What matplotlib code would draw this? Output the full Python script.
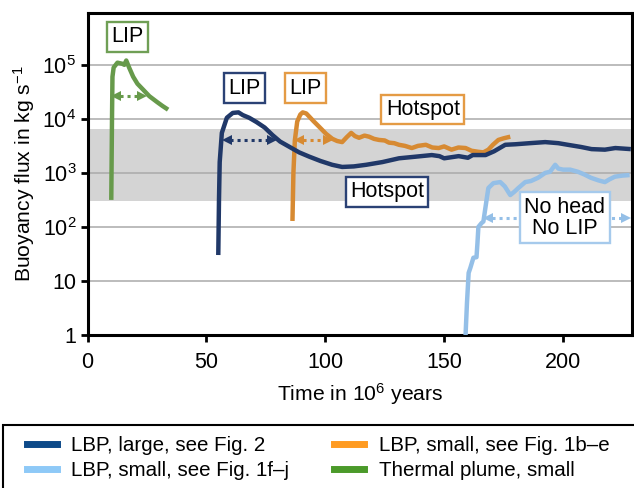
import matplotlib
matplotlib.use("Agg")
import matplotlib.pyplot as plt
import numpy as np
from matplotlib.lines import Line2D
from matplotlib.patches import Rectangle

plt.rcParams['font.family'] = ['Liberation Sans', 'DejaVu Sans']
plt.rcParams['mathtext.fontset'] = 'custom'
plt.rcParams['mathtext.rm'] = 'Liberation Sans'
plt.rcParams['mathtext.it'] = 'Liberation Sans'
plt.rcParams['mathtext.bf'] = 'Liberation Sans:bold'

# ---------------- data (time in Myr, log10 of buoyancy flux) ----------------
green_t = [10.0, 10.3, 10.5, 11.0, 12.6, 14.6, 15.5, 16.3, 17.5, 19.2, 21.0,
           23.4, 26.0, 29.3, 31.5, 33.9]
green_logf = [2.5, 3.98, 4.78, 4.95, 5.04, 5.02, 5.0, 5.08, 4.95, 4.78, 4.65,
              4.54, 4.42, 4.31, 4.24, 4.17]

navy_t = [55.0, 55.3, 55.6, 56.5, 58.6, 61.1, 63.5, 65.3, 68, 71.1, 74.5, 77.8,
          81, 85.0, 89, 93.3, 98, 102.9, 107.1, 112, 117.2, 124, 131.0, 138,
          144.8, 148, 150, 156.1, 160, 162, 167.4, 171, 175.7, 180, 186, 192.5,
          198, 202, 207.5, 212, 217.6, 222, 228.5]
navy_logf = [1.48, 2.5, 3.2, 3.74, 4.02, 4.11, 4.12, 4.07, 4.02, 3.94, 3.84,
             3.70, 3.58, 3.48, 3.38, 3.30, 3.22, 3.15, 3.11, 3.12, 3.15, 3.20,
             3.27, 3.30, 3.33, 3.31, 3.27, 3.31, 3.28, 3.33, 3.33, 3.40, 3.52,
             3.53, 3.55, 3.57, 3.55, 3.52, 3.48, 3.44, 3.43, 3.46, 3.44]

orange_t = [86.2, 86.6, 87.2, 88.2, 89.5, 90.5, 92, 93.3, 95, 97.5, 100.4, 103,
            105, 107.1, 109, 110.9, 112.5, 114.2, 116.5, 118.4, 120.5, 122.6,
            125, 126.8, 129, 131, 133.5, 136.4, 139, 142.3, 145, 147.7, 150,
            153.1, 156, 159, 161.5, 164.4, 166.5, 168.6, 170.5, 172.8, 175,
            177.8]
orange_logf = [2.11, 3.0, 3.6, 3.95, 4.08, 4.12, 4.10, 4.04, 3.96, 3.85, 3.72,
               3.63, 3.59, 3.57, 3.66, 3.74, 3.68, 3.65, 3.69, 3.67, 3.63, 3.61,
               3.60, 3.56, 3.55, 3.52, 3.50, 3.46, 3.50, 3.52, 3.47, 3.46, 3.49,
               3.43, 3.47, 3.46, 3.41, 3.39, 3.38, 3.43, 3.52, 3.61, 3.64, 3.67]

light_t = [159.0, 159.6, 160.3, 161.0, 162.3, 163.6, 164.0, 164.4, 165.7, 166.5,
           167.4, 168.0, 168.6, 170.7, 173.6, 175.5, 177.8, 179.5, 181.2, 184.1,
           186.5, 189.5, 192.5, 194.5, 196.7, 198.0, 200.0, 203, 206.3, 209,
           211.7, 215, 217.6, 219.5, 221.8, 225, 228.0]
light_logf = [0.0, 0.6, 1.15, 1.24, 1.43, 1.44, 1.7, 2.0, 2.07, 2.1, 2.37, 2.55,
              2.72, 2.81, 2.83, 2.75, 2.59, 2.65, 2.72, 2.83, 2.85, 2.91, 3.0,
              3.02, 3.15, 3.08, 3.06, 3.06, 3.02, 2.97, 2.91, 2.86, 2.83, 2.88,
              2.93, 2.95, 2.96]

hotspot_band = [300, 6500]
y_ticks = [1, 10, 100, 1000, 1e4, 1e5]
y_tick_labels = ['1', '10', r'$\mathregular{10^2}$', r'$\mathregular{10^3}$',
                 r'$\mathregular{10^4}$', r'$\mathregular{10^5}$']
x_ticks = [0, 50, 100, 150, 200]

legend_labels = ['LBP, large, see Fig. 2', 'LBP, small, see Fig. 1f\u2013j',
                 'LBP, small, see Fig. 1b\u2013e', 'Thermal plume, small']

# ---------------- styling ----------------
c_green, c_navy, c_orange, c_light = '#679a4b', '#203868', '#d78a32', '#94bfe7'
e_green, e_navy, e_orange, e_light = '#6f9f55', '#2b4275', '#e49b45', '#a6caec'
leg_colors = ['#0d4a89', '#8ec9f7', '#ff9b21', '#4b9a2a']

fig = plt.figure(figsize=(6.34, 4.88), dpi=100)
ax = fig.add_axes([87.5 / 634, 153 / 488, (632 - 87.5) / 634, (335 - 13) / 488])

ax.set_yscale('log')
ax.set_xlim(0, 229)
ax.set_ylim(1, 9.1e5)

ax.axhspan(hotspot_band[0], hotspot_band[1], color='#d4d4d4', zorder=0, lw=0)
for yv in y_ticks[1:]:
    ax.axhline(yv, color='#a9a9a9', lw=1.1, zorder=1)

lw = 3.2
for t, lf, c, z in [(green_t, green_logf, c_green, 3),
                    (navy_t, navy_logf, c_navy, 4),
                    (orange_t, orange_logf, c_orange, 3),
                    (light_t, light_logf, c_light, 3)]:
    ax.plot(t, 10 ** np.array(lf), color=c, lw=lw, zorder=z,
            solid_joinstyle='round', solid_capstyle='butt')


def darrow(x1, x2, y, color):
    ax.plot([x1 + 1.5, x2 - 1.5], [y, y], color=color, lw=2.2, ls=(0, (1, 1.3)),
            zorder=5)
    ax.plot([x1], [y], marker='<', color=color, ms=7.5, zorder=5, mew=0)
    ax.plot([x2], [y], marker='>', color=color, ms=7.5, zorder=5, mew=0)


darrow(12.0, 23.0, 10 ** 4.43, c_green)
darrow(58.6, 77.4, 10 ** 3.61, c_navy)
darrow(89.0, 101.0, 10 ** 3.61, c_orange)
darrow(168.6, 226.5, 10 ** 2.17, c_light)


def box(x, y, text, ec):
    ax.text(x, y, text, ha='center', va='center', fontsize=15.5, zorder=6,
            linespacing=1.0,
            bbox=dict(boxstyle='square,pad=0.2', fc='white', ec=ec, lw=1.7))


box(16.7, 10 ** 5.52, 'LIP', e_green)
box(66.1, 10 ** 4.57, 'LIP', e_navy)
box(91.6, 10 ** 4.57, 'LIP', e_orange)
box(141.0, 10 ** 4.17, 'Hotspot', e_orange)
box(126.0, 10 ** 2.65, 'Hotspot', e_navy)
box(200.8, 10 ** 2.17, 'No head\nNo LIP', e_light)

ax.set_yticks(y_ticks)
ax.set_yticklabels(y_tick_labels)
ax.yaxis.set_minor_locator(matplotlib.ticker.NullLocator())
ax.set_xticks(x_ticks)
ax.tick_params(axis='both', which='major', direction='out', length=5, width=2,
               labelsize=15.5, colors='black')
ax.tick_params(axis='y', pad=3)
ax.tick_params(axis='x', pad=7)
for s in ax.spines.values():
    s.set_linewidth(2.2)

ax.set_xlabel(r'Time in 10$^{\mathregular{6}}$ years', fontsize=15.2, labelpad=6)
ax.set_ylabel(r'Buoyancy flux in kg s$^{\mathregular{-1}}$', fontsize=15.2,
              labelpad=4)

# legend
handles = [Line2D([0], [0], color=c, lw=5) for c in leg_colors]
fig.legend(handles, legend_labels, loc='upper left',
           bbox_to_anchor=(27 / 634, (488 - 436) / 488), ncol=2, frameon=False,
           fontsize=14.8, handlelength=1.45, handletextpad=0.7,
           columnspacing=2.2, labelspacing=0.3, borderpad=0, borderaxespad=0)
fig.add_artist(Rectangle((3 / 634, -0.02), 640 / 634, (488 - 425) / 488 + 0.02,
                         transform=fig.transFigure, fill=False, lw=1.5,
                         ec='black'))

fig.savefig('out.png', dpi=100)
